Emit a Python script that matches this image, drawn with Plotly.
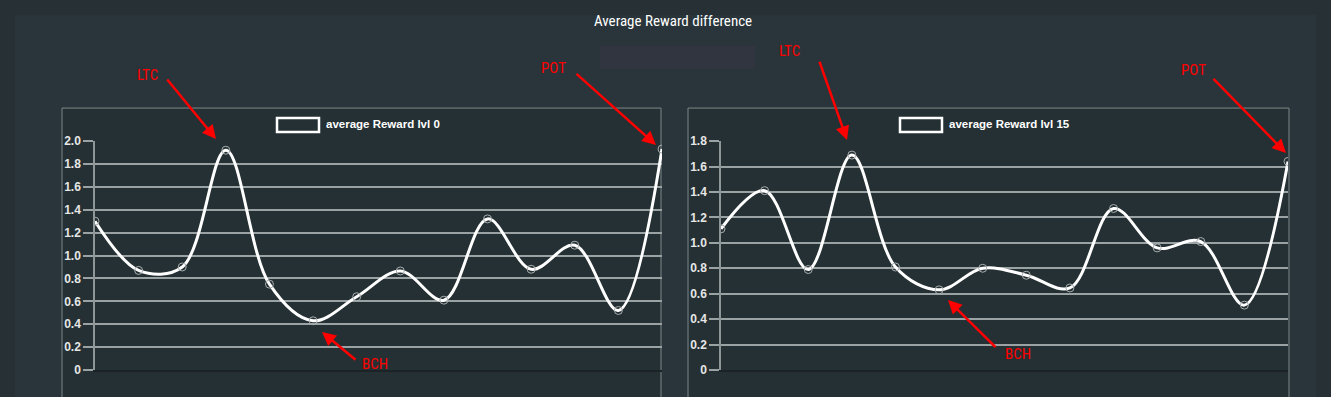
import plotly.graph_objects as go

W, H = 1331, 397

# ---- data ----
categories = ["1", "2", "3", "4", "5", "6", "7", "8", "9", "10", "11", "12", "13", "14"]
reward_lvl0 = [1.30, 0.87, 0.90, 1.92, 0.75, 0.43, 0.64, 0.865, 0.61, 1.32, 0.88, 1.09, 0.52, 1.93]
reward_lvl15 = [1.11, 1.41, 0.79, 1.69, 0.81, 0.63, 0.80, 0.745, 0.645, 1.27, 0.96, 1.01, 0.51, 1.64]
ticks_left = [0, 0.2, 0.4, 0.6, 0.8, 1.0, 1.2, 1.4, 1.6, 1.8, 2.0]
ticktext_left = ["0", "0.2", "0.4", "0.6", "0.8", "1.0", "1.2", "1.4", "1.6", "1.8", "2.0"]
ticks_right = [0, 0.2, 0.4, 0.6, 0.8, 1.0, 1.2, 1.4, 1.6, 1.8]
ticktext_right = ["0", "0.2", "0.4", "0.6", "0.8", "1.0", "1.2", "1.4", "1.6", "1.8"]
series_names = ["average Reward lvl 0", "average Reward lvl 15"]
title_text = "Average Reward difference"

# vertical calibration of the capture pipeline
VA, VB = 0.965, 5.9


def px(x):
    return x / W


def py(y):
    return 1 - ((y - VB) / VA) / H


PAGE = "#263035"
BOX = "#29353a"
PANEL = "#243033"
PANEL_BORDER = "#7d8789"
GRID = "#9ba2a3"
TICKFONT = dict(family="Liberation Sans, Arial, sans-serif", size=12, color="#e6e6e6", weight="bold")
NARROW = "Liberation Sans Narrow, Roboto Condensed, DejaVu Sans Condensed, sans-serif"

fig = go.Figure()

for i, (vals, xa, ya) in enumerate([(reward_lvl0, "x", "y"), (reward_lvl15, "x2", "y2")]):
    fig.add_trace(go.Scatter(
        x=list(range(len(categories))), y=vals, xaxis=xa, yaxis=ya,
        mode="lines+markers", name=series_names[i],
        line=dict(color="white", width=3, shape="spline", smoothing=1.0),
        marker=dict(symbol="circle-open", size=8, color="#a9aeb0", line=dict(width=1)),
        showlegend=False, hoverinfo="skip", cliponaxis=True,
    ))

common_x = dict(range=[0, 13], showgrid=False, zeroline=False, showticklabels=False,
                showline=True, linecolor="#1b2326", linewidth=2, ticks="", fixedrange=True)
common_y = dict(showgrid=True, gridcolor=GRID, gridwidth=1.5, zeroline=False,
                showline=True, linecolor="#8e9698", linewidth=1.5,
                ticks="outside", ticklen=10, tickcolor=GRID, tickwidth=1.5,
                tickfont=TICKFONT, fixedrange=True)

ydom = [py(369), py(140)]
fig.update_layout(
    xaxis=dict(domain=[px(95), px(662)], anchor="y", **common_x),
    yaxis=dict(domain=ydom, anchor="x", range=[0, 2.0], tickvals=ticks_left,
               ticktext=ticktext_left, **common_y),
    xaxis2=dict(domain=[px(721), px(1288)], anchor="y2", **common_x),
    yaxis2=dict(domain=ydom, anchor="x2", range=[0, 1.8], tickvals=ticks_right,
                ticktext=ticktext_right, **common_y),
)

shapes = [
    dict(type="rect", xref="paper", yref="paper", x0=px(15), x1=px(1316), y0=py(420), y1=py(14),
         fillcolor=BOX, line=dict(width=0), layer="below"),
    dict(type="rect", xref="paper", yref="paper", x0=px(600), x1=px(755), y0=py(68), y1=py(45),
         fillcolor="#30353f", line=dict(width=0), layer="below"),
    dict(type="rect", xref="paper", yref="paper", x0=px(62), x1=px(661), y0=py(420), y1=py(107),
         fillcolor=PANEL, line=dict(color=PANEL_BORDER, width=1), layer="below"),
    dict(type="rect", xref="paper", yref="paper", x0=px(688), x1=px(1289), y0=py(420), y1=py(107),
         fillcolor=PANEL, line=dict(color=PANEL_BORDER, width=1), layer="below"),
    # legend boxes
    dict(type="rect", xref="paper", yref="paper", x0=px(277), x1=px(319), y0=py(131), y1=py(117),
         fillcolor=PANEL, line=dict(color="white", width=2.5)),
    dict(type="rect", xref="paper", yref="paper", x0=px(900), x1=px(942), y0=py(131), y1=py(117),
         fillcolor=PANEL, line=dict(color="white", width=2.5)),
]

annotations = [
    dict(text=title_text, x=px(673), y=py(20), xref="paper", yref="paper", showarrow=False,
         xanchor="center", yanchor="middle",
         font=dict(family=NARROW, size=15, color="white")),
    dict(text=series_names[0], x=px(324), y=py(123), xref="paper", yref="paper", showarrow=False,
         xanchor="left", yanchor="middle",
         font=dict(family="Liberation Sans, Arial, sans-serif", size=11.5, color="white", weight="bold")),
    dict(text=series_names[1], x=px(947), y=py(123), xref="paper", yref="paper", showarrow=False,
         xanchor="left", yanchor="middle",
         font=dict(family="Liberation Sans, Arial, sans-serif", size=11.5, color="white", weight="bold")),
]

labels = [("LTC", 147, 74), ("POT", 553, 67), ("BCH", 375, 363),
          ("LTC", 789, 50), ("POT", 1193, 69), ("BCH", 1018, 353)]
for t, x, y in labels:
    annotations.append(dict(text=t, x=px(x), y=py(y), xref="paper", yref="paper", showarrow=False,
                            xanchor="center", yanchor="middle",
                            font=dict(family=NARROW, size=15, color="#ff0000")))

arrows = [((166, 79), (216, 138)), ((575, 74), (656, 144)), ((357, 359), (322, 331)),
          ((819, 62), (847, 139)), ((1212, 79), (1286, 152)), ((997, 346), (948, 299))]
for (tx, ty), (hx, hy) in arrows:
    annotations.append(dict(text="", x=px(hx), y=py(hy), xref="paper", yref="paper",
                            ax=tx - hx, ay=(ty - hy) / VA, showarrow=True, arrowhead=2,
                            arrowsize=1.1, arrowwidth=2.5, arrowcolor="#ff0000"))

fig.update_layout(
    width=W, height=H, autosize=False,
    margin=dict(l=0, r=0, t=0, b=0),
    paper_bgcolor=PAGE, plot_bgcolor="rgba(0,0,0,0)",
    shapes=shapes, annotations=annotations, showlegend=False,
)

fig.write_html(
    "out.html",
    config={"displayModeBar": False},
    post_script="document.body.style.margin='0px';document.body.style.overflow='hidden';"
                "document.body.style.background='" + PAGE + "';",
)
